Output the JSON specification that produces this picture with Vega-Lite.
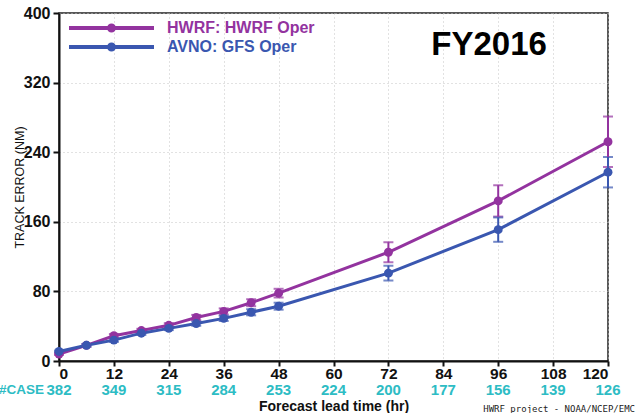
{
  "$schema": "https://vega.github.io/schema/vega-lite/v6.json",
  "width": 549,
  "height": 348,
  "autosize": {"type": "none"},
  "padding": {"left": 59, "top": 13, "right": 27, "bottom": 52},
  "background": "white",
  "config": {
    "view": {"stroke": "#222", "strokeWidth": 1.5},
    "axis": {
      "domainColor": "#111", "domainWidth": 2,
      "tickColor": "#111", "tickWidth": 2, "tickSize": 5,
      "gridColor": "#c4c4c4", "gridDash": [1, 3], "gridWidth": 1,
      "labelColor": "#111"
    }
  },
  "datasets": {
    "errors": [
      {"hour": 0, "model": "HWRF: HWRF Oper", "value": 8, "lo": 7, "hi": 9},
      {"hour": 6, "model": "HWRF: HWRF Oper", "value": 18, "lo": 16.5, "hi": 19.5},
      {"hour": 12, "model": "HWRF: HWRF Oper", "value": 29, "lo": 27, "hi": 31},
      {"hour": 18, "model": "HWRF: HWRF Oper", "value": 35, "lo": 33, "hi": 37},
      {"hour": 24, "model": "HWRF: HWRF Oper", "value": 41, "lo": 38.5, "hi": 43.5},
      {"hour": 30, "model": "HWRF: HWRF Oper", "value": 50, "lo": 47, "hi": 53},
      {"hour": 36, "model": "HWRF: HWRF Oper", "value": 57, "lo": 53.5, "hi": 60.5},
      {"hour": 42, "model": "HWRF: HWRF Oper", "value": 67, "lo": 63, "hi": 71},
      {"hour": 48, "model": "HWRF: HWRF Oper", "value": 78, "lo": 73, "hi": 83},
      {"hour": 72, "model": "HWRF: HWRF Oper", "value": 125, "lo": 113.5, "hi": 136.5},
      {"hour": 96, "model": "HWRF: HWRF Oper", "value": 184, "lo": 166, "hi": 202},
      {"hour": 120, "model": "HWRF: HWRF Oper", "value": 252, "lo": 223, "hi": 281},
      {"hour": 0, "model": "AVNO: GFS Oper", "value": 11, "lo": 10, "hi": 12},
      {"hour": 6, "model": "AVNO: GFS Oper", "value": 18, "lo": 16.5, "hi": 19.5},
      {"hour": 12, "model": "AVNO: GFS Oper", "value": 24, "lo": 22, "hi": 26},
      {"hour": 18, "model": "AVNO: GFS Oper", "value": 32, "lo": 30, "hi": 34},
      {"hour": 24, "model": "AVNO: GFS Oper", "value": 37.5, "lo": 35.5, "hi": 39.5},
      {"hour": 30, "model": "AVNO: GFS Oper", "value": 43, "lo": 40.5, "hi": 45.5},
      {"hour": 36, "model": "AVNO: GFS Oper", "value": 49, "lo": 46, "hi": 52},
      {"hour": 42, "model": "AVNO: GFS Oper", "value": 56, "lo": 52.5, "hi": 59.5},
      {"hour": 48, "model": "AVNO: GFS Oper", "value": 63, "lo": 59, "hi": 67},
      {"hour": 72, "model": "AVNO: GFS Oper", "value": 101, "lo": 92.5, "hi": 109.5},
      {"hour": 96, "model": "AVNO: GFS Oper", "value": 151, "lo": 137, "hi": 165},
      {"hour": 120, "model": "AVNO: GFS Oper", "value": 217, "lo": 199.5, "hi": 234.5}
    ],
    "cases": [
      {"hour": 0, "cases": 382},
      {"hour": 12, "cases": 349},
      {"hour": 24, "cases": 315},
      {"hour": 36, "cases": 284},
      {"hour": 48, "cases": 253},
      {"hour": 60, "cases": 224},
      {"hour": 72, "cases": 200},
      {"hour": 84, "cases": 177},
      {"hour": 96, "cases": 156},
      {"hour": 108, "cases": 139},
      {"hour": 120, "cases": 126}
    ],
    "one": [{}]
  },
  "layer": [
    {
      "data": {"name": "errors"},
      "mark": {"type": "errorbar", "ticks": {"size": 10, "thickness": 2}, "rule": {"strokeWidth": 2}},
      "encoding": {
        "x": {"field": "hour", "type": "quantitative", "title": "Forecast lead time (hr)"},
        "y": {"field": "lo", "type": "quantitative", "title": "TRACK ERROR (NM)"},
        "y2": {"field": "hi"},
        "color": {"field": "model", "type": "nominal"}
      }
    },
    {
      "data": {"name": "errors"},
      "mark": {"type": "line", "strokeWidth": 3},
      "encoding": {
        "x": {
          "field": "hour", "type": "quantitative",
          "scale": {"domain": [0, 120], "nice": false},
          "title": "Forecast lead time (hr)",
          "axis": {
            "values": [0, 12, 24, 36, 48, 60, 72, 84, 96, 108, 120],
            "labelFont": "Liberation Sans", "labelFontSize": 15.5, "labelFontWeight": "bold",
            "labelPadding": 0,
            "titleFont": "Liberation Sans", "titleFontSize": 14, "titleFontWeight": "bold",
            "titleColor": "#111", "titleY": 45, "titleBaseline": "middle"
          }
        },
        "y": {
          "field": "value", "type": "quantitative",
          "scale": {"domain": [0, 400], "nice": false},
          "title": "TRACK ERROR (NM)",
          "axis": {
            "values": [0, 80, 160, 240, 320, 400],
            "labelFont": "Liberation Sans", "labelFontSize": 16, "labelFontWeight": "bold",
            "labelPadding": 3, "tickSize": 6,
            "titleFont": "Liberation Sans", "titleFontSize": 12.5, "titleFontWeight": "normal",
            "titleColor": "#111",
            "titleAngle": 270, "titleX": -40, "titleY": 174,
            "titleAlign": "center", "titleBaseline": "middle"
          }
        },
        "color": {
          "field": "model", "type": "nominal",
          "scale": {"domain": ["HWRF: HWRF Oper", "AVNO: GFS Oper"], "range": ["#93339F", "#3A57B0"]},
          "legend": {
            "title": null, "orient": "none", "legendX": 44.5, "legendY": 7,
            "padding": 0, "rowPadding": -4,
            "symbolType": "M-8.5,0L8.5,0M0.5,0A0.5,0.5,0,1,1,-0.5,0A0.5,0.5,0,1,1,0.5,0",
            "symbolSize": 100, "symbolStrokeWidth": 4,
            "labelOffset": 47.5, "labelFont": "Liberation Sans", "labelFontSize": 16,
            "labelFontWeight": "bold", "labelLimit": 300,
            "encode": {"labels": {"update": {"fill": {"scale": "color", "field": "value"}}}}
          }
        }
      }
    },
    {
      "data": {"name": "errors"},
      "mark": {"type": "point", "filled": true, "opacity": 1, "size": 80, "shape": "circle"},
      "encoding": {
        "x": {"field": "hour", "type": "quantitative"},
        "y": {"field": "value", "type": "quantitative"},
        "color": {"field": "model", "type": "nominal"}
      }
    },
    {
      "data": {"name": "cases"},
      "mark": {"type": "text", "dy": 28.5, "font": "Liberation Sans", "fontSize": 15, "fontWeight": "bold", "color": "#2DBCC4", "baseline": "middle", "align": "center"},
      "encoding": {
        "x": {"field": "hour", "type": "quantitative"},
        "y": {"datum": 0},
        "text": {"field": "cases", "type": "nominal"}
      }
    },
    {
      "data": {"name": "one"},
      "mark": {"type": "text", "dy": 28.5, "dx": -15, "font": "Liberation Sans", "fontSize": 13.5, "fontWeight": "bold", "color": "#2DBCC4", "baseline": "middle", "align": "right"},
      "encoding": {
        "x": {"datum": 0},
        "y": {"datum": 0},
        "text": {"value": "#CASE"}
      }
    },
    {
      "data": {"name": "one"},
      "mark": {"type": "text", "font": "Liberation Sans", "fontSize": 33, "fontWeight": "bold", "color": "#000", "baseline": "middle", "align": "center"},
      "encoding": {
        "x": {"datum": 94},
        "y": {"datum": 363},
        "text": {"value": "FY2016"}
      }
    },
    {
      "data": {"name": "one"},
      "mark": {"type": "text", "dy": 48, "dx": 27, "font": "DejaVu Sans Mono", "fontSize": 9, "color": "#222", "baseline": "middle", "align": "right"},
      "encoding": {
        "x": {"datum": 120},
        "y": {"datum": 0},
        "text": {"value": "HWRF project - NOAA/NCEP/EMC"}
      }
    }
  ]
}
